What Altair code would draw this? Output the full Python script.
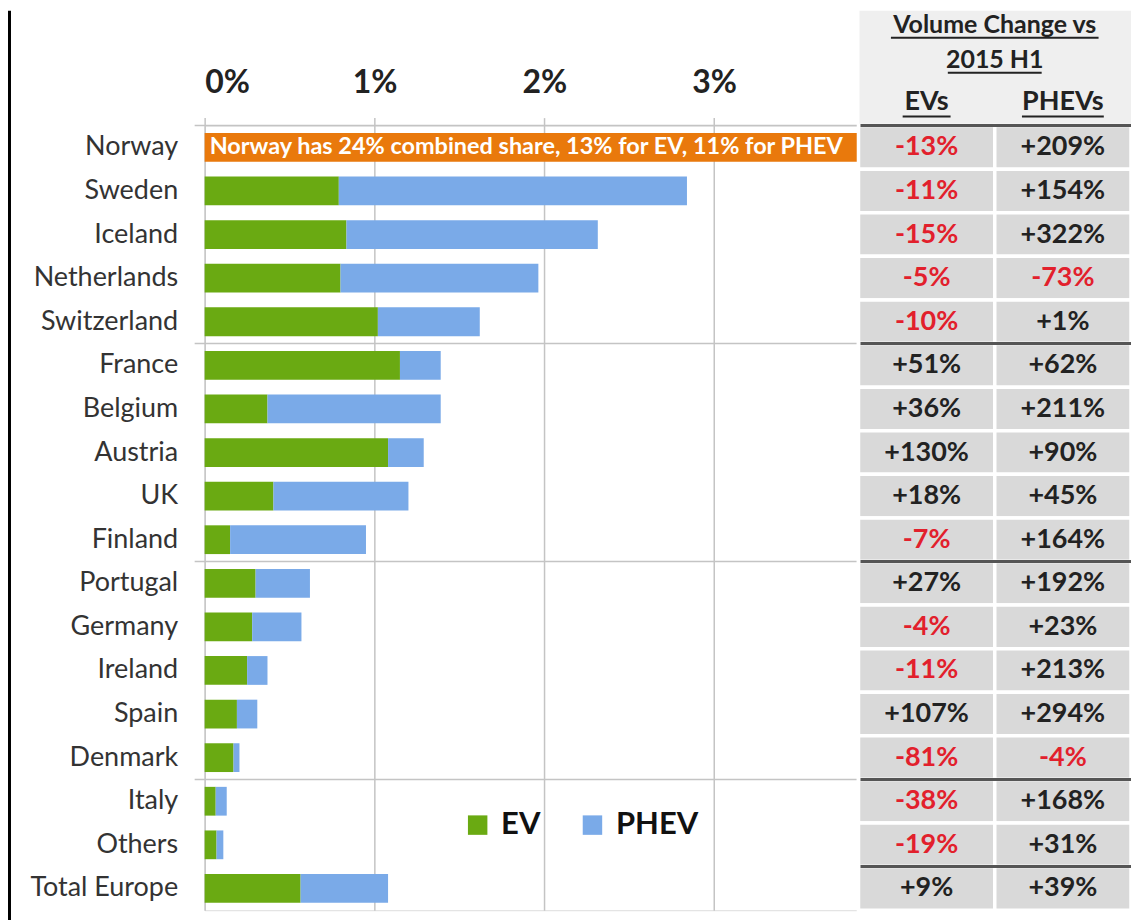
import altair as alt
import pandas as pd

# ---------------- data ----------------
countries = ["Norway", "Sweden", "Iceland", "Netherlands", "Switzerland",
             "France", "Belgium", "Austria", "UK", "Finland",
             "Portugal", "Germany", "Ireland", "Spain", "Denmark",
             "Italy", "Others", "Total Europe"]
ev_share = [13.0, 0.79, 0.835, 0.80, 1.02, 1.15, 0.37, 1.08, 0.405, 0.15,
            0.30, 0.28, 0.25, 0.19, 0.17, 0.065, 0.07, 0.565]
phev_share = [11.0, 2.05, 1.48, 1.165, 0.60, 0.24, 1.02, 0.21, 0.795, 0.80,
              0.32, 0.29, 0.12, 0.12, 0.035, 0.065, 0.04, 0.515]
ev_change = [-13, -11, -15, -5, -10, 51, 36, 130, 18, -7,
             27, -4, -11, 107, -81, -38, -19, 9]
phev_change = [209, 154, 322, -73, 1, 62, 211, 90, 45, 164,
               192, 23, 213, 294, -4, 168, 31, 39]
series = ["EV", "PHEV"]
x_ticks = [0, 1, 2, 3]
chart_breaks = ["Switzerland", "Finland", "Denmark"]
table_breaks = ["Switzerland", "Finland", "Denmark", "Others"]
table_cols = ["EVs", "PHEVs"]
title_lines = ["Volume Change vs", "2015 H1"]

# ---------------- layout constants ----------------
W = 928          # plot width (bars + table)
H = 786          # plot height
BAR_W = 655      # bar region width
X_MAX = 3.85
FONT = "Lato"
GREEN = "#6aaa12"
BLUE = "#7aaae8"
ORANGE = "#e9790c"
RED = "#e2202c"
DARK = "#222222"

# ---------------- tables ----------------
long_rows = []
for c, e, p in zip(countries, ev_share, phev_share):
    if c == "Norway":
        continue
    long_rows.append({"country": c, "series": "EV", "value": e, "ord": 0})
    long_rows.append({"country": c, "series": "PHEV", "value": p, "ord": 1})
bars_df = pd.DataFrame(long_rows)

i_nor = countries.index("Norway")
tot_nor = ev_share[i_nor] + phev_share[i_nor]
norway_df = pd.DataFrame([{
    "country": "Norway", "total": tot_nor,
    "label": f"Norway has {tot_nor:.0f}% combined share, {ev_share[i_nor]:.0f}% for EV, "
             f"{phev_share[i_nor]:.0f}% for PHEV"}])

tab_rows = []
for c, e, p in zip(countries, ev_change, phev_change):
    tab_rows.append({"country": c, "col": "EVs", "v": e, "txt": f"{e:+d}%"})
    tab_rows.append({"country": c, "col": "PHEVs", "v": p, "txt": f"{p:+d}%"})
tab_df = pd.DataFrame(tab_rows)

chart_break_df = pd.DataFrame({"country": chart_breaks})
table_break_df = pd.DataFrame({"country": table_breaks})
cols_df = pd.DataFrame({"col": table_cols})
one_df = pd.DataFrame({"k": [0]})

y_scale = alt.Scale(domain=countries, paddingInner=0, paddingOuter=0)
y_axis = alt.Axis(title=None, labelFontSize=27, labelFont=FONT, labelColor="#333333",
                  labelPadding=27, ticks=False, domain=False, grid=False,
                  minExtent=197, maxExtent=197)
x_scale = alt.Scale(domain=[0, X_MAX], range=[0, BAR_W], clamp=True, nice=False, zero=True)
col_scale = alt.Scale(domain=table_cols, range=[BAR_W, W], paddingInner=0, paddingOuter=0)


def Y(bp=None):
    if bp is None:
        return alt.Y("country:N", scale=y_scale, axis=y_axis)
    return alt.Y("country:N", scale=y_scale, axis=y_axis, bandPosition=bp)


# ---------------- bar layers ----------------
bars = alt.Chart(bars_df).mark_bar(height={"band": 0.66}).encode(
    y=Y(),
    x=alt.X("value:Q", stack="zero", scale=x_scale,
            axis=alt.Axis(orient="top", values=x_ticks, labelExpr="datum.value + '%'",
                          title=None, grid=True, gridColor="#c4c4c4", gridWidth=1.5,
                          ticks=True, tickSize=8, tickColor="#c4c4c4", tickWidth=1.5,
                          domain=False, labelFontSize=32, labelFontWeight="bold",
                          labelFont=FONT, labelColor=DARK, labelPadding=18)),
    color=alt.Color("series:N", scale=alt.Scale(domain=series, range=[GREEN, BLUE]),
                    legend=alt.Legend(orient="none", legendX=258, legendY=685,
                                      direction="horizontal", title=None,
                                      symbolType="square", symbolSize=380,
                                      symbolStrokeWidth=0, labelFontSize=31,
                                      labelFontWeight="bold", labelFont=FONT,
                                      labelColor="#111111", columnPadding=36,
                                      labelOffset=8)),
    order=alt.Order("ord:Q"),
)

norway_bar = alt.Chart(norway_df).mark_bar(height={"band": 0.66}, color=ORANGE).encode(
    y=Y(),
    x=alt.X("total:Q", scale=x_scale, axis=None),
)
norway_text = alt.Chart(norway_df).mark_text(
    align="left", baseline="middle", color="white", fontSize=23.5,
    fontWeight="bold", font=FONT).encode(
    y=Y(),
    x=alt.value(5),
    text="label:N",
)

# top axis line and group separators in bar region
top_line = alt.Chart(one_df).mark_rule(color="#c4c4c4", strokeWidth=1.5).encode(
    y=alt.value(0), x=alt.value(-10), x2=alt.value(BAR_W))
chart_breaks_rule = alt.Chart(chart_break_df).mark_rule(color="#c4c4c4", strokeWidth=1.5).encode(
    y=Y(1), x=alt.value(-10), x2=alt.value(BAR_W))

# left border
left_border = alt.Chart(one_df).mark_rule(color="black", strokeWidth=3).encode(
    x=alt.value(-195.5), y=alt.value(-115), y2=alt.value(H + 10))

# ---------------- table layers ----------------
header_bg = alt.Chart(one_df).mark_rect(color="#efefef").encode(
    x=alt.value(BAR_W + 1), x2=alt.value(W), y=alt.value(-115), y2=alt.value(0))

cells = alt.Chart(tab_df).mark_rect(color="#d9d9d9", stroke="white", strokeWidth=3.5).encode(
    x=alt.X("col:N", scale=col_scale, axis=None),
    y=Y(),
)
cell_text = alt.Chart(tab_df).mark_text(fontSize=27, fontWeight="bold", font=FONT,
                                        baseline="middle").encode(
    x=alt.X("col:N", scale=col_scale, axis=None),
    y=Y(),
    text="txt:N",
    color=alt.condition("datum.v < 0", alt.value(RED), alt.value(DARK)),
)

table_breaks_rule = alt.Chart(table_break_df).mark_rule(color="#555555", strokeWidth=3).encode(
    y=Y(1), x=alt.value(BAR_W + 2), x2=alt.value(W))
header_rule = alt.Chart(one_df).mark_rule(color="#555555", strokeWidth=3).encode(
    y=alt.value(0), x=alt.value(BAR_W + 2), x2=alt.value(W))

col_head = alt.Chart(cols_df).mark_text(fontSize=27, fontWeight="bold", font=FONT,
                                        color=DARK, baseline="middle").encode(
    x=alt.X("col:N", scale=col_scale, axis=None),
    y=alt.value(-24),
    text="col:N",
)

TCX = (BAR_W + W) / 2
C1 = BAR_W + (W - BAR_W) * 0.25
C2 = BAR_W + (W - BAR_W) * 0.75
title1 = alt.Chart(pd.DataFrame({"t": [title_lines[0]]})).mark_text(
    fontSize=25, fontWeight="bold", font=FONT, color=DARK, baseline="middle").encode(
    x=alt.value(TCX), y=alt.value(-101), text="t:N")
title2 = alt.Chart(pd.DataFrame({"t": [title_lines[1]]})).mark_text(
    fontSize=25, fontWeight="bold", font=FONT, color=DARK, baseline="middle").encode(
    x=alt.value(TCX), y=alt.value(-66), text="t:N")


def underline(cx, half_w, yv):
    return alt.Chart(one_df).mark_rule(color=DARK, strokeWidth=2).encode(
        x=alt.value(cx - half_w), x2=alt.value(cx + half_w), y=alt.value(yv))


ul1 = underline(TCX, 104, -88)
ul2 = underline(TCX, 47, -53)
ul3 = underline(C1, 24, -9)
ul4 = underline(C2, 41, -9)

chart = alt.layer(
    left_border, top_line, chart_breaks_rule, bars, norway_bar, norway_text,
    header_bg, cells, cell_text, table_breaks_rule, header_rule,
    col_head, title1, title2, ul1, ul2, ul3, ul4,
).resolve_scale(x="independent").properties(
    width=W, height=H, padding=0,
).configure_view(stroke=None).configure(font=FONT, background="white")

chart.save("out.html", embed_options={"renderer": "svg", "actions": False})
